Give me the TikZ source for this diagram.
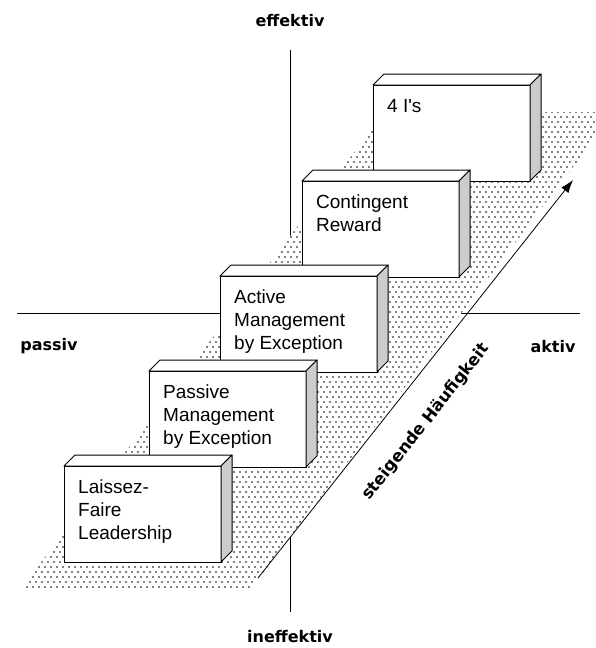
\documentclass[tikz,border=0pt]{standalone}
\usepackage{fontspec}
\setmainfont{Liberation Sans}
\newfontfamily\lblfont{DejaVu Sans}
\usetikzlibrary{arrows.meta}
\definecolor{sidegray}{RGB}{204,204,204}
\newcommand\cubefaces[1]{%
  \draw[face, fill=white] (#1.north west) -- ([shift={(11,-11)}]#1.north west) -- ([shift={(11,-11)}]#1.north east) -- (#1.north east) -- cycle;
  \draw[face, fill=sidegray] (#1.north east) -- ([shift={(11,-11)}]#1.north east) -- ([shift={(11,-11)}]#1.south east) -- (#1.south east) -- cycle;}
\begin{document}
\begin{tikzpicture}[x=1pt,y=-1pt,
  cube/.style={draw, fill=white, line width=1pt, minimum width=157pt, minimum height=96pt, anchor=north west, inner sep=0pt, outer sep=0pt},
  boxtext/.style={anchor=north west, align=left, inner sep=0pt, font=\fontsize{19}{23}\selectfont},
  axislbl/.style={font=\lblfont\bfseries\fontsize{16}{19}\selectfont, inner sep=0pt, anchor=base},
  axis/.style={line width=0.9pt},
  face/.style={draw, line width=1pt, line join=round}]
\useasboundingbox (0,0) rectangle (595,648);

% axes
\coordinate (vt) at (290,50);
\coordinate (vb) at (290,612);
\coordinate (hl) at (17,313);
\coordinate (hr) at (580,313);
\draw[axis] (vt) -- (vb);
\draw[axis] (hl) -- (hr);

\node[axislbl] (eff) at (290,26) {effektiv};
\node[axislbl] (ineff) at (290,642) {ineffektiv};
\node[axislbl] (pas) at (49,350) {passiv};
\node[axislbl] (akt) at (553,352) {aktiv};

% dotted floor
\coordinate (p1) at (20,590);
\coordinate (p2) at (250,590);
\coordinate (p3) at (615,112);
\coordinate (p4) at (385,112);
\fill[white] (p1) -- (p2) -- (p3) -- (p4) -- cycle;
\begin{scope}
\clip (p1) -- (p2) -- (p3) -- (p4) -- cycle;
\foreach \i in {0,...,96} {
  \pgfmathsetmacro\yy{112+5*\i}
  \pgfmathsetmacro\xs{20+(590-\yy)/1.31-6}
  \pgfmathtruncatemacro\js{floor(\xs/6)}
  \pgfmathtruncatemacro\je{\js+42}
  \pgfmathsetmacro\off{mod(\i,2)*3}
  \fill[black] \foreach \j in {\js,...,\je} {({\j*6+\off},\yy) circle (0.8)};
}
\end{scope}

% arrow
\coordinate (as) at (258,578);
\coordinate (ae) at (573,180);
\draw[line width=0.8pt, -{Latex[length=13pt,width=9pt]}] (as) -- (ae);
\node[font=\lblfont\bfseries\fontsize{16.5}{19}\selectfont, rotate=51.7, inner sep=0pt] (freq) at (426,422) {steigende Häufigkeit};

% boxes (back to front)
\node[cube] (b1) at (373,85) {};
\cubefaces{b1}
\node[boxtext] (t1) at ([shift={(14,14)}]b1.north west) {4 I\textquotesingle s};

\node[cube] (b2) at (302,181) {};
\cubefaces{b2}
\node[boxtext] (t2) at ([shift={(14,14)}]b2.north west) {Contingent\\Reward};

\node[cube] (b3) at (220,276) {};
\cubefaces{b3}
\node[boxtext] (t3) at ([shift={(14,14)}]b3.north west) {Active\\Management\\by Exception};

\node[cube] (b4) at (149,371) {};
\cubefaces{b4}
\node[boxtext] (t4) at ([shift={(14,14)}]b4.north west) {Passive\\Management\\by Exception};

\node[cube] (b5) at (64,466) {};
\cubefaces{b5}
\node[boxtext] (t5) at ([shift={(14,14)}]b5.north west) {Laissez-\\Faire\\Leadership};
\end{tikzpicture}
\end{document}
